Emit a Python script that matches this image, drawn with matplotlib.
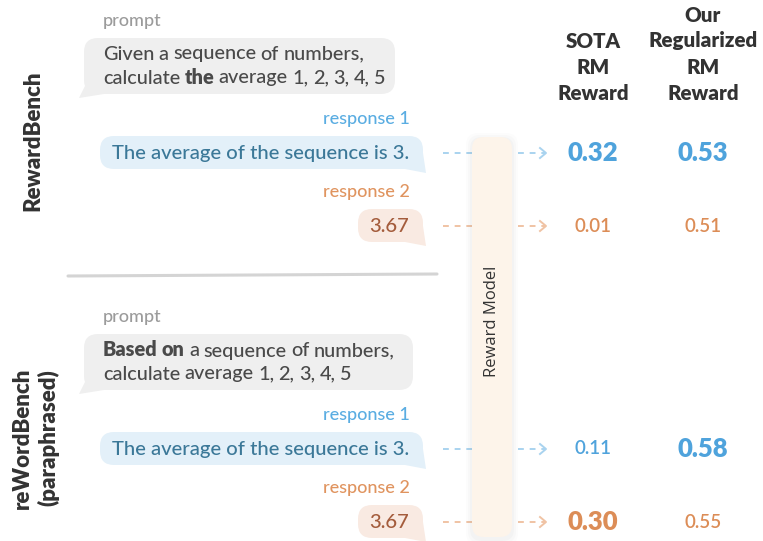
import numpy as np
import matplotlib.pyplot as plt
from matplotlib.patches import FancyBboxPatch, Polygon

plt.rcParams['font.family'] = ['Lato', 'DejaVu Sans']

# dados
benchmarks = ["RewardBench", "reWordBench\n(paraphrased)"]
prompts = [
    [[("Given", False), ("a", False), ("sequence", False), ("of", False), ("numbers,", False)],
     [("calculate", False), ("the", True), ("average", False), ("1,", False), ("2,", False),
      ("3,", False), ("4,", False), ("5", False)]],
    [[("Based", True), ("on", True), ("a", False), ("sequence", False), ("of", False), ("numbers,", False)],
     [("calculate", False), ("average", False), ("1,", False), ("2,", False), ("3,", False),
      ("4,", False), ("5", False)]],
]
responses = ["The average of the sequence is 3.", "3.67"]
response_labels = ["response 1", "response 2"]
col_headers = ["SOTA\nRM\nReward", "Our\nRegularized\nRM\nReward"]
sota_rewards = [[0.32, 0.01], [0.11, 0.30]]
reg_rewards = [[0.53, 0.51], [0.58, 0.55]]

# cores
c_label = ['#5aade2', '#e0945f']
c_text = ['#3b7898', '#a45c3c']
c_fill = ['#e3f0f9', '#f9eae2']
c_arrow = ['#a9d3ef', '#f0c3a4']
c_val = ['#4fa3dc', '#dc8d57']

fig = plt.figure(figsize=(7.63, 5.41), dpi=100)
ax = fig.add_axes([0, 0, 1, 1])
ax.set_xlim(0, 763)
ax.set_ylim(541, 0)
ax.axis('off')


def bubble(x0, y0, x1, y1, fill, tail):
    ax.add_patch(FancyBboxPatch((x0, y0), x1 - x0, y1 - y0,
                                boxstyle="round,pad=0,rounding_size=14",
                                fc=fill, ec='none', zorder=1))
    ax.add_patch(Polygon(tail, closed=True, fc=fill, ec='none', zorder=1))


def rich_line(x, y, parts, size, color):
    prev = None
    for word, bold in parts:
        w = 'heavy' if bold else 'medium'
        if prev is None:
            prev = ax.text(x, y, word, fontsize=size, fontweight=w, color=color,
                           ha='left', va='center', zorder=3)
        else:
            prev = ax.annotate(word, xy=(1, 0), xycoords=prev, xytext=(size * 0.22, 0),
                               textcoords='offset points', ha='left', va='bottom',
                               fontsize=size, fontweight=w, color=color, zorder=3)


# bloco superior / inferior
offsets = [0, 296]
prompt_right = [395, 413]
for b in range(2):
    dy = offsets[b]
    ax.text(103, 21 + dy, "prompt", fontsize=13, fontweight='medium', color='#9b9b9b',
            ha='left', va='center')
    x1 = prompt_right[b]
    bubble(84, 38 + dy, x1, 94 + dy, '#efefef',
           [(88, 80 + dy), (79, 98 + dy), (104, 94 + dy)])
    for k, line in enumerate(prompts[b]):
        rich_line(103, 54 + 24 * k + dy, line, 14.3, '#4a4a4a')

    # respostas
    resp_y = [153 + dy, 226 + dy]
    lab_y = [119 + dy, 192 + dy]
    resp_left = [100, 358]
    for r in range(2):
        ax.text(410, lab_y[r], response_labels[r], fontsize=13, fontweight='medium',
                color=c_label[r], ha='right', va='center')
        y = resp_y[r]
        bubble(resp_left[r], y - 17, 423, y + 16, c_fill[r],
               [(405, y + 16), (426, y + 20), (423, y)])
        ax.text(409, y, responses[r], fontsize=14.6, fontweight='medium', color=c_text[r],
                ha='right', va='center', zorder=3)

        # setas tracejadas
        ax.plot([443, 472], [y, y], color=c_arrow[r], lw=1.4, ls=(0, (3, 3)), zorder=2)
        ax.plot([518, 545], [y, y], color=c_arrow[r], lw=1.4, ls=(0, (3, 3)), zorder=2)
        ax.plot([540, 546, 540], [y - 5, y, y + 5], color=c_arrow[r], lw=1.4, zorder=2)

    # valores
    for c, vals in enumerate([sota_rewards[b], reg_rewards[b]]):
        xc = [593, 703][c]
        best = int(np.argmax(vals))
        for r, v in enumerate(vals):
            if r == best:
                ax.text(xc, resp_y[r], f"{v:.2f}", fontsize=18.5, fontweight='heavy',
                        color=c_val[r], ha='center', va='center')
            else:
                ax.text(xc, resp_y[r], f"{v:.2f}", fontsize=13.5, fontweight='semibold',
                        color=c_val[r], ha='center', va='center')

    # rotulo do benchmark
    ax.text([33, 36][b], [141, 438][b], benchmarks[b], rotation=90, fontsize=16,
            fontweight='heavy', color='#333333', ha='center', va='center',
            multialignment='center', linespacing=1.25)

# linha separadora
xs = np.linspace(68, 437, 60)
ax.plot(xs, 276 - (xs - 68) / 369 * 2, color='#d4d4d4', lw=2.2, solid_capstyle='round')

# barra do reward model (com sombra)
for i, a in enumerate([0.025, 0.03, 0.04]):
    p = 6 - 2 * i
    ax.add_patch(FancyBboxPatch((472 - p, 137 - p + 2), 40 + 2 * p, 400 + 2 * p,
                                boxstyle="round,pad=0,rounding_size=12",
                                fc='#888888', ec='none', alpha=a, zorder=4))
ax.add_patch(FancyBboxPatch((472, 137), 40, 400, boxstyle="round,pad=0,rounding_size=12",
                            fc='#fdf4ea', ec='none', zorder=5))
ax.text(492, 321, "Reward Model", rotation=90, fontsize=12, family=['Open Sans', 'DejaVu Sans'],
        color='#333333', ha='center', va='center', zorder=6)

# cabecalhos das colunas
for c, head in enumerate(col_headers):
    lines = head.split('\n')[::-1]
    for k, s in enumerate(lines):
        ax.text([593, 703][c], 93 - 26 * k, s, fontsize=14.8, fontweight='heavy',
                color='#333333', ha='center', va='center')

fig.savefig('out.png', dpi=100)
